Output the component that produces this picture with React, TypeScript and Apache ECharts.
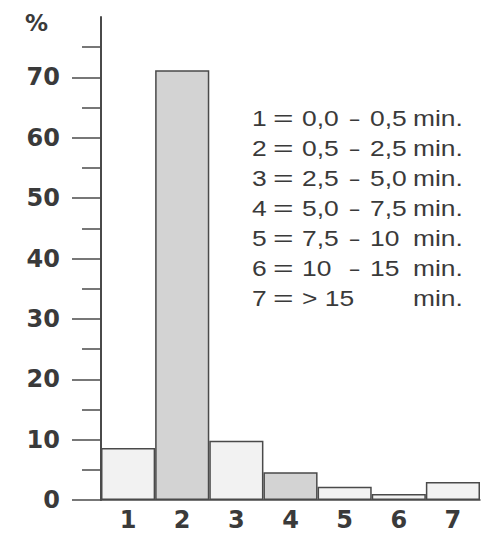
import React, { useEffect, useRef } from "react";
import * as echarts from "echarts";

const categories = ["1", "2", "3", "4", "5", "6", "7"];
const percentValues = [8.6, 71.2, 9.8, 4.6, 2.2, 1.0, 3.0];
const shadedBars = [1, 3];
const majorTicks = [0, 10, 20, 30, 40, 50, 60, 70];
const minorTicks = [5, 15, 25, 35, 45, 55, 65, 75];
const legendKeys = ["1", "2", "3", "4", "5", "6", "7"];
const legendFrom = ["0,0", "0,5", "2,5", "5,0", "7,5", "10", "> 15"];
const legendTo = ["0,5", "2,5", "5,0", "7,5", "10", "15", ""];
const unitLabel = "%";
const minuteLabel = "min.";

const AXIS_COLOR = "#4a4a4a";
const TEXT_COLOR = "#3a3a3a";
const LEGEND_COLOR = "#3a3a3a";

export default function App() {
  const ref = useRef<HTMLDivElement>(null);

  useEffect(() => {
    if (!ref.current) return;
    const chart = echarts.init(ref.current, null, { renderer: "svg" });

    const legendFont = {
      fontFamily: "Liberation Sans, Arial, sans-serif",
      fontSize: 22,
      fill: LEGEND_COLOR,
    };
    const legendGraphics: any[] = [];
    legendKeys.forEach((k, i) => {
      const y = 118.5 + 30 * i;
      const mk = (text: string, x: number, sx = 1.2) => ({
        type: "text",
        x,
        y,
        scaleX: sx,
        style: { ...legendFont, text, textAlign: "left", textVerticalAlign: "middle" },
      });
      legendGraphics.push(mk(k, 252));
      legendGraphics.push(mk("=", 273, 1.6));
      legendGraphics.push(mk(legendFrom[i], 302));
      if (legendTo[i]) {
        legendGraphics.push(mk("–", 350, 0.75));
        legendGraphics.push(mk(legendTo[i], 370));
      }
      legendGraphics.push(mk(minuteLabel, 413));
    });

    const labelFont = {
      color: TEXT_COLOR,
      fontSize: 24,
      fontWeight: "bold",
      fontFamily: "DejaVu Sans, sans-serif",
    };

    chart.setOption({
      animation: false,
      backgroundColor: "#ffffff",
      grid: { left: 101, right: 9, top: 17, bottom: 33 },
      xAxis: {
        type: "category",
        data: categories,
        axisLine: { show: true, lineStyle: { color: AXIS_COLOR, width: 1.5 } },
        axisTick: { show: false },
        axisLabel: { ...labelFont, margin: 8 },
      },
      yAxis: [
        {
          type: "value",
          position: "left",
          min: 0,
          max: 80,
          splitLine: { show: false },
          axisLine: { show: true, lineStyle: { color: AXIS_COLOR, width: 2 } },
          axisTick: {
            show: true,
            length: 29,
            customValues: majorTicks,
            lineStyle: { color: AXIS_COLOR, width: 1.5 },
          },
          axisLabel: { ...labelFont, customValues: majorTicks, margin: 41 },
        },
        {
          type: "value",
          position: "left",
          min: 0,
          max: 80,
          splitLine: { show: false },
          axisLine: { show: false },
          axisTick: {
            show: true,
            length: 19,
            customValues: minorTicks,
            lineStyle: { color: AXIS_COLOR, width: 1.5 },
          },
          axisLabel: { show: false },
        },
      ],
      series: [
        {
          type: "bar",
          yAxisIndex: 0,
          barCategoryGap: "0%",
          data: percentValues.map((v, i) => ({
            value: v,
            itemStyle: {
              color: shadedBars.includes(i) ? "#d3d3d3" : "#f2f2f2",
            },
          })),
          itemStyle: { borderColor: AXIS_COLOR, borderWidth: 1.5 },
        },
      ],
      graphic: [
        {
          type: "text",
          x: 25,
          y: 23,
          style: {
            text: unitLabel,
            fontFamily: "DejaVu Sans, sans-serif",
            fontWeight: "bold",
            fontSize: 23,
            fill: TEXT_COLOR,
            textAlign: "left",
            textVerticalAlign: "middle",
          },
        },
        ...legendGraphics,
      ],
    });

    return () => chart.dispose();
  }, []);

  return (
    <div
      ref={ref}
      style={{ position: "fixed", left: 0, top: 0, width: 489, height: 533 }}
    />
  );
}
